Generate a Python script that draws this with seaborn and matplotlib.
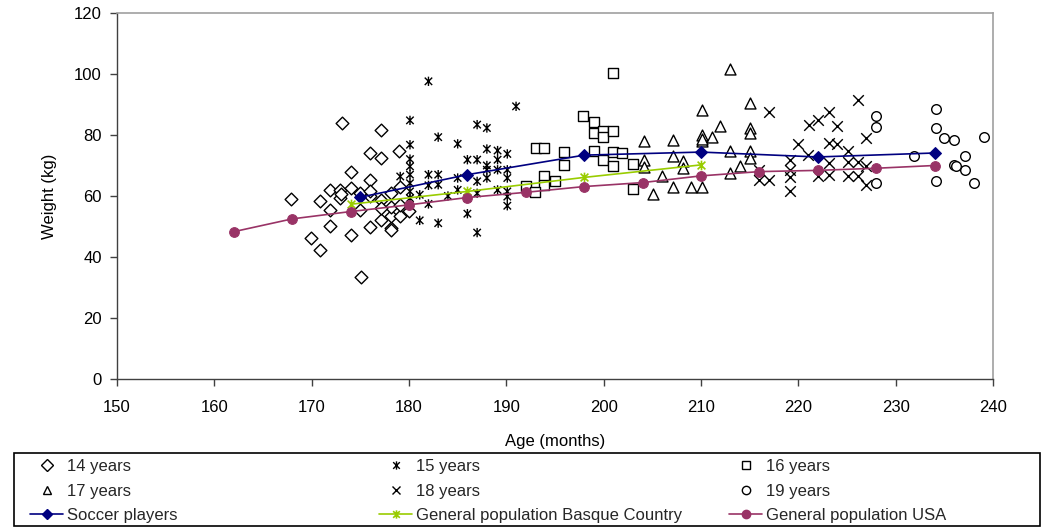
import matplotlib
matplotlib.use("Agg")
import matplotlib.pyplot as plt
import seaborn as sns
import pandas as pd
from matplotlib.path import Path
from matplotlib.lines import Line2D
from matplotlib.patches import Rectangle

# ---- data (age in months, weight in kg) ----
age14 = [(173.1,83.9),(177.1,81.5),(176.0,74.1),(177.1,72.4),(179.0,74.6),(174.0,67.8),(176.0,65.1),
         (167.9,59.0),(170.9,58.2),(171.9,62.0),(172.9,62.0),(172.9,59.3),(174.0,62.6),(171.9,55.5),
         (175.0,55.5),(171.9,50.2),(174.0,47.3),(176.0,50.0),(169.9,46.2),(170.9,42.3),(175.1,33.4),
         (177.1,52.2),(178.1,49.5),(178.1,53.3),(179.1,53.3),(177.1,58.7),(178.1,56.5),(179.1,63.1),
         (178.1,60.9),(179.1,57.0),(178.1,48.9),(180.0,55.0),(176.0,60.0),(175.0,61.0),(173.0,60.5),
         (177.1,56.0),(176.0,61.5)]
age15 = [(182.0,97.6),(191.0,89.4),(180.1,84.8),(187.0,83.4),(188.0,82.3),(183.0,79.3),(185.0,77.1),
         (180.1,76.8),(188.0,75.4),(189.1,74.9),(190.1,73.8),(180.1,72.1),(186.0,71.9),(187.0,71.9),
         (189.1,71.9),(180.1,69.7),(180.1,67.0),(180.1,64.2),(180.1,61.5),(180.1,59.3),(182.0,67.0),
         (183.0,67.0),(183.0,63.7),(182.0,63.5),(185.0,65.9),(188.0,68.6),(188.0,65.9),(189.1,68.6),
         (190.1,68.6),(190.1,65.9),(187.0,64.8),(187.0,60.9),(185.0,62.0),(186.0,59.3),(189.1,62.0),
         (190.1,61.5),(190.1,59.8),(181.1,60.4),(182.0,57.4),(181.1,52.0),(183.0,51.1),(186.0,54.2),
         (187.0,48.0),(190.1,56.8),(179.1,66.4),(184.0,60.0),(188.0,70.0)]
age16 = [(201.0,100.3),(197.9,86.1),(199.0,84.1),(199.0,80.6),(199.9,81.4),(199.9,79.5),(201.0,81.4),
         (193.0,75.7),(193.9,75.7),(195.9,74.3),(195.9,70.2),(199.0,74.6),(199.9,71.9),(201.0,74.3),
         (201.9,74.0),(201.0,69.7),(203.0,70.4),(203.0,62.3),(193.9,66.6),(193.9,63.7),(195.0,64.8),
         (192.0,63.3),(192.9,61.2)]
age17 = [(213.0,101.6),(210.1,88.3),(215.0,90.5),(212.0,83.0),(215.0,82.3),(215.0,80.6),(210.1,80.1),
         (211.1,79.3),(210.1,77.9),(207.1,78.4),(213.0,74.9),(215.0,74.9),(215.0,72.4),(207.1,73.0),
         (208.1,71.5),(208.1,69.1),(214.0,69.9),(213.0,67.5),(206.0,66.6),(207.1,62.9),(209.0,63.1),
         (210.1,63.1),(204.1,77.9),(204.1,71.9),(204.1,69.5),(205.1,60.7),(210.1,78.8)]
age18 = [(226.1,91.6),(217.0,87.7),(223.1,87.4),(222.0,84.8),(221.1,83.4),(224.0,83.0),(227.0,79.0),
         (220.0,77.1),(223.1,77.3),(224.0,77.1),(225.1,74.6),(221.0,73.5),(219.1,71.9),(223.1,70.8),
         (225.1,71.3),(226.1,71.3),(227.0,69.7),(219.1,68.6),(219.1,66.1),(219.1,61.5),(216.0,68.6),
         (216.0,65.3),(217.0,65.3),(222.0,66.4),(223.1,67.0),(225.1,66.4),(226.1,66.6),(227.0,63.7)]
age19 = [(228.0,86.1),(228.0,82.6),(234.1,88.5),(234.1,82.3),(235.0,79.0),(236.0,78.4),(239.1,79.5),
         (231.9,73.0),(237.1,73.0),(236.0,70.2),(237.1,68.6),(228.0,64.4),(234.1,64.8),(238.0,64.2),
         (236.2,69.7)]

soccer_x = [175, 186, 198, 210, 222, 234]
soccer_y = [59.6, 67.0, 73.4, 74.4, 72.8, 74.1]
basque_x = [174, 186, 198, 210]
basque_y = [57.3, 61.5, 66.1, 70.2]
usa_x = [162, 168, 174, 180, 186, 192, 198, 204, 210, 216, 222, 228, 234]
usa_y = [48.3, 52.5, 54.9, 57.1, 59.5, 61.2, 63.1, 64.4, 66.6, 68.0, 68.4, 69.1, 70.0]

group_labels = ["14 years", "15 years", "16 years", "17 years", "18 years", "19 years"]
line_labels = ["Soccer players", "General population Basque Country", "General population USA"]

# ---- style ----
sns.set_style("white")
plt.rcParams['font.family'] = ['Liberation Sans', 'DejaVu Sans']

star = Path([(-1, -1), (1, 1), (-1, 1), (1, -1), (0, -1.25), (0, 1.25)],
            [Path.MOVETO, Path.LINETO, Path.MOVETO, Path.LINETO, Path.MOVETO, Path.LINETO])

NAVY = "#000080"
GREEN = "#99CC00"
PLUM = "#993366"
FS = 12

fig = plt.figure(figsize=(10.46, 5.28), dpi=100)
ax = fig.add_axes([117/1046, 1-379/528, (993-117)/1046, (379-13)/528])

styles = [
    dict(marker="D", s=42, facecolor="white", edgecolor="black", linewidth=1.0),
    dict(marker=star, s=45, facecolor="none", edgecolor="black", linewidth=1.0),
    dict(marker="s", s=58, facecolor="white", edgecolor="black", linewidth=1.0),
    dict(marker="^", s=62, facecolor="white", edgecolor="black", linewidth=1.0),
    dict(marker="x", s=58, color="black", linewidth=1.0),
    dict(marker="o", s=48, facecolor="white", edgecolor="black", linewidth=1.0),
]
groups = [age14, age15, age16, age17, age18, age19]
for pts, st in zip(groups, styles):
    df = pd.DataFrame(pts, columns=["age", "weight"])
    sns.scatterplot(data=df, x="age", y="weight", ax=ax, zorder=2, legend=False, **st)

sns.lineplot(x=soccer_x, y=soccer_y, ax=ax, color=NAVY, marker="D", markersize=6,
             markeredgecolor=NAVY, linewidth=1.2, errorbar=None, zorder=3)
sns.lineplot(x=basque_x, y=basque_y, ax=ax, color=GREEN, marker=star, markersize=7,
             markeredgecolor=GREEN, markerfacecolor="none", markeredgewidth=1.2,
             linewidth=1.2, errorbar=None, zorder=3)
sns.lineplot(x=usa_x, y=usa_y, ax=ax, color=PLUM, marker="o", markersize=7,
             markeredgecolor=PLUM, linewidth=1.2, errorbar=None, zorder=3)

ax.set_xlim(150, 240)
ax.set_ylim(0, 120)
ax.set_xticks(range(150, 241, 10))
ax.set_yticks(range(0, 121, 20))
ax.set_xlabel("Age (months)", fontsize=FS, color="black", labelpad=14)
ax.set_ylabel("Weight (kg)", fontsize=FS, color="black", labelpad=12)
ax.tick_params(axis="both", direction="out", length=5, width=1, color="#404040",
               labelsize=FS, labelcolor="black", left=True, bottom=True)
ax.tick_params(axis="x", pad=10)
ax.tick_params(axis="y", pad=6)
for side in ["left", "bottom"]:
    ax.spines[side].set_color("#404040")
    ax.spines[side].set_linewidth(1.0)
for side in ["top", "right"]:
    ax.spines[side].set_color("#A0A0A0")
    ax.spines[side].set_linewidth(1.2)

# ---- legend (three columns, row-major) ----
def sc_handle(st):
    if st["marker"] == "x":
        return Line2D([], [], linestyle="none", marker="x", color="black", markersize=6, markeredgewidth=1)
    return Line2D([], [], linestyle="none", marker=st["marker"],
                  markerfacecolor="white" if st.get("facecolor") == "white" else "none",
                  markeredgecolor="black", markersize=6, markeredgewidth=1)

h_soccer = Line2D([], [], color=NAVY, marker="D", markersize=5, linewidth=1.2)
h_basque = Line2D([], [], color=GREEN, marker=star, markersize=6, markerfacecolor="none",
                  markeredgewidth=1.2, linewidth=1.2)
h_usa = Line2D([], [], color=PLUM, marker="o", markersize=6, linewidth=1.2)

sh = [sc_handle(st) for st in styles]
columns = [
    ([sh[0], sh[3], h_soccer], [group_labels[0], group_labels[3], line_labels[0]], 30),
    ([sh[1], sh[4], h_basque], [group_labels[1], group_labels[4], line_labels[1]], 379),
    ([sh[2], sh[5], h_usa], [group_labels[2], group_labels[5], line_labels[2]], 729),
]
for hs, ls, xpx in columns:
    fig.legend(hs, ls, loc="upper left", bbox_to_anchor=(xpx/1046, 1-459/528),
               frameon=False, fontsize=FS, handlelength=2.0, handletextpad=0.2,
               labelspacing=0.58, borderpad=0, borderaxespad=0)

fig.patches.append(Rectangle((14/1046, 1-526/528), (1040-14)/1046, (526-453)/528,
                             transform=fig.transFigure, fill=False, edgecolor="black", linewidth=1.2))

fig.savefig("out.png", dpi=100)
